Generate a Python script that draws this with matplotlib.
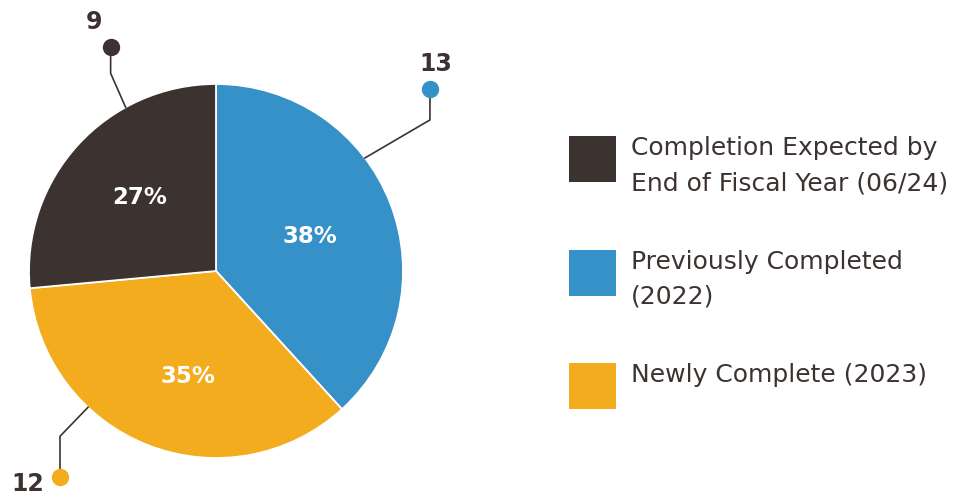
import matplotlib.pyplot as plt
from matplotlib.patches import Rectangle
import numpy as np

# data
labels = ['Previously Completed\n(2022)', 'Newly Complete (2023)',
          'Completion Expected by\nEnd of Fiscal Year (06/24)']
counts = [13, 12, 9]
pcts = ['38%', '35%', '27%']
colors = ['#3591c7', '#f2ac1e', '#3c3331']
legend_order = [2, 0, 1]

W, H = 961, 496
fig = plt.figure(figsize=(W / 100, H / 100), dpi=100)
ax = fig.add_axes([0, 0, 1, 1])

cx, cy, r = 216, H - 271, 187
wedges, _ = ax.pie(counts, colors=colors, startangle=90, counterclock=False,
                   center=(cx, cy), radius=r, frame=True,
                   wedgeprops=dict(linewidth=1.3, edgecolor='white'))
ax.set_xlim(0, W)
ax.set_ylim(0, H)
ax.set_aspect('equal')
ax.axis('off')

# percentage labels inside slices: (angle deg, fraction of radius)
pct_pos = [(19.9, 0.535), (-104.8, 0.586), (135.8, 0.567)]
for (ang, fr), p in zip(pct_pos, pcts):
    a = np.radians(ang)
    ax.text(cx + fr * r * np.cos(a), cy + fr * r * np.sin(a), p,
            color='white', fontsize=16.5, fontweight='bold',
            ha='center', va='center')

# leader lines: attach angle, elbow offset, dot offset (px), label offset
leaders = [
    (37.2, (65, 38), (65, 69), (6, 25)),          # 13
    (-133.2, (-28, -29), (-28, -70), (-32, -7)),  # 12
    (118.9, (-15, 34), (-15, 60), (-17, 25)),     # 9
]
for (ang, elb, dot, lab), n, c in zip(leaders, counts, colors):
    a = np.radians(ang)
    x0, y0 = cx + r * np.cos(a), cy + r * np.sin(a)
    ex, ey = x0 + elb[0], y0 + elb[1]
    dx, dy = x0 + dot[0], y0 + dot[1]
    ax.plot([x0, ex, dx], [y0, ey, dy], color='#3c3331', lw=1.2,
            solid_joinstyle='miter')
    ax.plot(dx, dy, 'o', ms=12.5, color=c, mec='none')
    ax.text(dx + lab[0], dy + lab[1], str(n), color='#3c3331', fontsize=17,
            fontweight='bold', ha='center', va='center')

# legend
for k, i in enumerate(legend_order):
    top = H - (136 + k * 113.5)
    ax.add_patch(Rectangle((569, top - 46), 47, 46, color=colors[i], lw=0))
    ax.text(631, top, labels[i], color='#3c3331', fontsize=18,
            ha='left', va='top', linespacing=1.6)

fig.savefig('out.png', dpi=100)
